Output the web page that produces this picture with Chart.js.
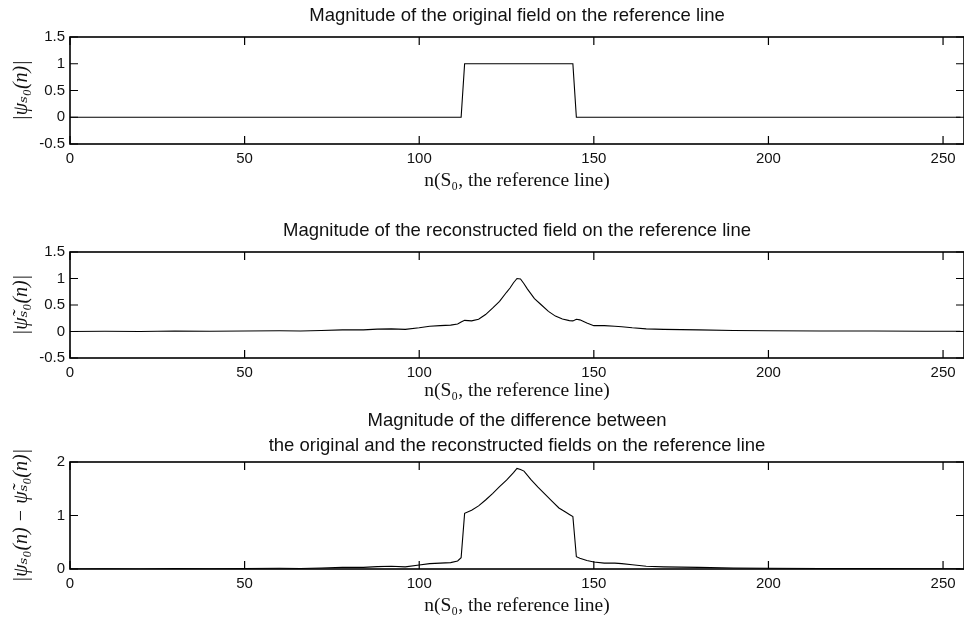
<!DOCTYPE html>
<html>
<head>
<meta charset="utf-8">
<script src="https://cdn.jsdelivr.net/npm/chart.js@4.4.1/dist/chart.umd.min.js"></script>
<style>
  body { margin: 0; background: #fff; overflow: hidden; }
  canvas { position: absolute; left: 0; }
</style>
</head>
<body>
<canvas id="orig" width="964" height="200" style="top:0px"></canvas>
<canvas id="recon" width="964" height="205" style="top:200px"></canvas>
<canvas id="diff" width="964" height="218" style="top:405px"></canvas>
<script>
// sample index n on the reference line and the magnitudes
const nOriginal = [0, 112, 113, 144, 145, 255];
const magOriginal = [0, 0, 1, 1, 0, 0];

const nRecon = [0, 10, 20, 30, 40, 50, 60, 66, 72, 78, 84, 88, 92, 96, 100, 103, 106, 109, 111, 112, 113,
  115, 117, 119, 121, 123, 125, 126, 127, 128, 129, 130, 131, 133, 135, 137, 139, 141, 143, 144, 145, 146,
  148, 150, 153, 156, 158, 161, 165, 170, 180, 190, 200, 215, 230, 245, 255];
const magRecon = [0.0, 0.005, 0.0, 0.01, 0.005, 0.01, 0.015, 0.01, 0.02, 0.03, 0.03, 0.045, 0.05, 0.04, 0.07,
  0.1, 0.11, 0.12, 0.14, 0.18, 0.21, 0.2, 0.23, 0.32, 0.44, 0.57, 0.74, 0.82, 0.92, 1.0, 0.99, 0.9, 0.8, 0.62,
  0.5, 0.38, 0.29, 0.235, 0.205, 0.2, 0.23, 0.22, 0.16, 0.11, 0.11, 0.1, 0.09, 0.07, 0.05, 0.04, 0.03, 0.02,
  0.015, 0.01, 0.01, 0.005, 0.005];

const nDiff = [0, 10, 20, 30, 40, 50, 60, 66, 72, 78, 84, 88, 92, 96, 100, 103, 106, 109, 111, 112, 113,
  115, 117, 119, 121, 123, 125, 127, 128, 129, 130, 132, 134, 136, 138, 140, 142, 143, 144, 145, 146, 148,
  150, 153, 156, 158, 161, 165, 170, 180, 190, 200, 215, 230, 245, 255];
const magDiff = [0, 0.005, 0, 0.01, 0.005, 0.01, 0.015, 0.01, 0.02, 0.03, 0.03, 0.045, 0.05, 0.04, 0.075,
  0.1, 0.11, 0.12, 0.15, 0.21, 1.04, 1.1, 1.18, 1.29, 1.41, 1.54, 1.66, 1.8, 1.88, 1.86, 1.83, 1.67, 1.53,
  1.4, 1.27, 1.14, 1.06, 1.02, 0.98, 0.23, 0.2, 0.16, 0.13, 0.11, 0.11, 0.1, 0.08, 0.05, 0.04, 0.03, 0.02,
  0.015, 0.01, 0.01, 0.005, 0.005];

const xTickValues = [0, 50, 100, 150, 200, 250];
const yTicksField = [-0.5, 0, 0.5, 1, 1.5];
const yTicksDiff = [0, 1, 2];

const xLabel = 'n(S₀, the reference line)';

// matlab style box with inward ticks on every side
const boxPlugin = {
  id: 'box',
  afterDraw(chart) {
    const {ctx, chartArea: {left, right, top, bottom}, scales: {x, y}} = chart;
    ctx.save();
    ctx.strokeStyle = '#000';
    ctx.lineWidth = 1.6;
    ctx.strokeRect(left, top, right - left, bottom - top);
    ctx.lineWidth = 1.2;
    ctx.beginPath();
    x.ticks.forEach(t => {
      const px = x.getPixelForValue(t.value);
      ctx.moveTo(px, bottom); ctx.lineTo(px, bottom - 8);
      ctx.moveTo(px, top); ctx.lineTo(px, top + 8);
    });
    y.ticks.forEach(t => {
      const py = y.getPixelForValue(t.value);
      ctx.moveTo(left, py); ctx.lineTo(left + 8, py);
      ctx.moveTo(right, py); ctx.lineTo(right - 8, py);
    });
    ctx.stroke();
    ctx.restore();
  }
};

function makeChart(id, xs, ys, opts) {
  const ctx = document.getElementById(id).getContext('2d');
  return new Chart(ctx, {
    type: 'line',
    data: {
      datasets: [{
        data: xs.map((n, i) => ({x: n, y: ys[i]})),
        borderColor: '#000',
        borderWidth: 1.1,
        pointRadius: 0,
        tension: 0
      }]
    },
    options: {
      responsive: false,
      animation: false,
      layout: {padding: 0},
      plugins: {
        legend: {display: false},
        tooltip: {enabled: false},
        title: {
          display: true,
          fullSize: false,
          text: opts.title,
          color: '#111',
          font: {family: 'Liberation Sans, Arial, sans-serif', size: 18.5, weight: 'normal', lineHeight: opts.titleLine},
          padding: opts.titlePad
        }
      },
      scales: {
        x: {
          type: 'linear',
          min: 0,
          max: 256,
          grid: {display: false, drawTicks: false},
          border: {display: false},
          afterBuildTicks: s => { s.ticks = xTickValues.map(v => ({value: v})); },
          afterFit: s => { s.height = opts.xHeight; },
          ticks: {color: '#111', padding: 6, font: {family: 'Liberation Sans, Arial, sans-serif', size: 15}},
          title: {
            display: true,
            text: xLabel,
            color: '#111',
            font: {family: 'Liberation Serif, DejaVu Serif, serif', size: 19.5, lineHeight: '20px'},
            padding: {top: 0, bottom: opts.xTitleBottom}
          }
        },
        y: {
          min: opts.yMin,
          max: opts.yMax,
          grid: {display: false, drawTicks: false},
          border: {display: false},
          afterBuildTicks: s => { s.ticks = opts.yTicks.map(v => ({value: v})); },
          afterFit: s => { s.width = 70; },
          ticks: {
            color: '#111', padding: 5,
            font: {family: 'Liberation Sans, Arial, sans-serif', size: 15},
            callback: v => String(v)
          },
          title: {
            display: true,
            text: opts.yLabel,
            color: '#111',
            font: {family: 'Liberation Serif, DejaVu Serif, serif', size: 20, style: 'italic', lineHeight: '22px'},
            padding: {top: 11, bottom: 0}
          }
        }
      }
    },
    plugins: [boxPlugin]
  });
}

makeChart('orig', nOriginal, magOriginal, {
  title: 'Magnitude of the original field on the reference line',
  titleLine: '20px', titlePad: {top: 5.5, bottom: 11.5},
  xHeight: 56, xTitleBottom: 9,
  yMin: -0.5, yMax: 1.5, yTicks: yTicksField,
  yLabel: '|ψₛ₀(n)|'
});

makeChart('recon', nRecon, magRecon, {
  title: 'Magnitude of the reconstructed field on the reference line',
  titleLine: '20px', titlePad: {top: 21, bottom: 11},
  xHeight: 47, xTitleBottom: 4,
  yMin: -0.5, yMax: 1.5, yTicks: yTicksField,
  yLabel: '|ψ̃ₛ₀(n)|'
});

makeChart('diff', nDiff, magDiff, {
  title: ['Magnitude of the difference between', 'the original and the reconstructed fields on the reference line'],
  titleLine: '25px', titlePad: {top: 3, bottom: 4},
  xHeight: 54, xTitleBottom: 7,
  yMin: 0, yMax: 2, yTicks: yTicksDiff,
  yLabel: '|ψₛ₀(n) − ψ̃ₛ₀(n)|'
});
</script>
</body>
</html>
